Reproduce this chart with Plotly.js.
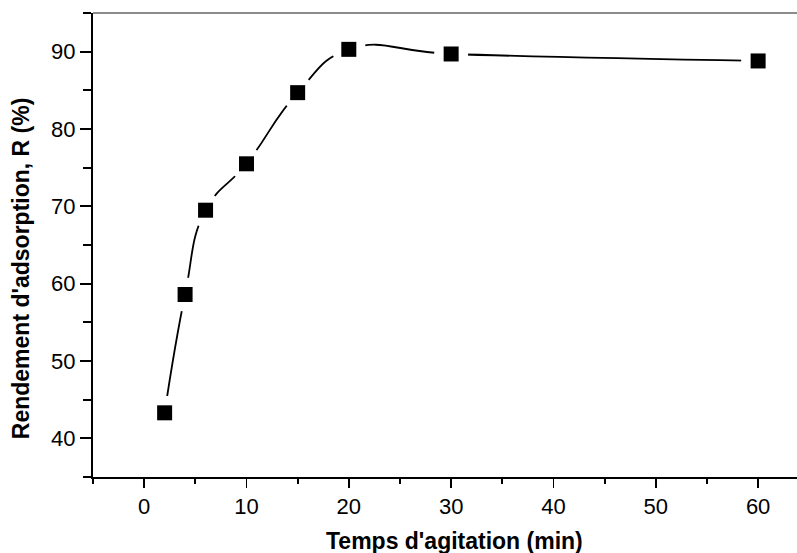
<!DOCTYPE html>
<html>
<head>
<meta charset="utf-8">
<script src="https://cdn.plot.ly/plotly-3.0.1.min.js"></script>
<style>html,body{margin:0;padding:0;background:#fff;}#chart{width:797px;height:553px;}</style>
</head>
<body>
<div id="chart"></div>
<script>
const tempsMin = [2, 4, 6, 10, 15, 20, 30, 60];
const rendement = [43.3, 58.6, 69.5, 75.5, 84.7, 90.3, 89.7, 88.8];
const xTickVals = [0, 10, 20, 30, 40, 50, 60];
const yTickVals = [40, 50, 60, 70, 80, 90];
const xTitle = "Temps d'agitation (min)";
const yTitle = "Rendement d'adsorption, R (%)";

const font = "Liberation Sans, Arial, sans-serif";

const traces = [
  {x: tempsMin, y: rendement, mode: 'lines', type: 'scatter',
   line: {color: '#000', width: 1.8, shape: 'spline', smoothing: 1.3},
   hoverinfo: 'skip', showlegend: false},
  {x: tempsMin, y: rendement, mode: 'markers', type: 'scatter',
   marker: {symbol: 'circle', size: 34, color: '#fff', line: {width: 0}},
   hoverinfo: 'skip', showlegend: false},
  {x: tempsMin, y: rendement, mode: 'markers', type: 'scatter',
   marker: {symbol: 'square', size: 15, color: '#000', line: {width: 0}},
   showlegend: false}
];

const layout = {
  width: 797, height: 553,
  margin: {l: 93, r: 0, t: 13, b: 76},
  paper_bgcolor: '#fff', plot_bgcolor: '#fff',
  showlegend: false,
  font: {family: font, color: '#000'},
  xaxis: {
    range: [-5, 63.8], tickvals: xTickVals, ticktext: xTickVals.map(String),
    ticks: 'outside', ticklen: 9, tickwidth: 1.8, tickcolor: '#000',
    minor: {dtick: 5, tick0: 0, ticks: 'outside', ticklen: 5, tickwidth: 1.8, tickcolor: '#000', showgrid: false},
    showline: true, linecolor: '#000', linewidth: 2, showgrid: false, zeroline: false,
    tickfont: {size: 22, family: font, color: '#000'}
  },
  yaxis: {
    range: [35, 95], tickvals: yTickVals, ticktext: yTickVals.map(String),
    ticks: 'outside', ticklen: 11, tickwidth: 1.8, tickcolor: '#000',
    minor: {dtick: 5, tick0: 0, ticks: 'outside', ticklen: 8, tickwidth: 1.8, tickcolor: '#000', showgrid: false},
    showline: true, linecolor: '#000', linewidth: 2, showgrid: false, zeroline: false,
    tickfont: {size: 22, family: font, color: '#000'}
  },
  annotations: [
    {text: '<b>' + xTitle + '</b>', xref: 'paper', yref: 'paper', x: 0.514, y: 0,
     yshift: -64, xanchor: 'center', yanchor: 'middle', showarrow: false,
     font: {size: 23, family: font, color: '#000'}},
    {text: '<b>' + yTitle + '</b>', xref: 'paper', yref: 'paper', x: 0, y: 0.45,
     xshift: -72, xanchor: 'center', yanchor: 'middle', textangle: -90, showarrow: false,
     font: {size: 23, family: font, color: '#000'}}
  ],
  shapes: [
    {type: 'line', xref: 'paper', yref: 'paper', x0: 0, x1: 1, y0: 1, y1: 1,
     line: {color: '#666', width: 1.5}}
  ]
};

Plotly.newPlot('chart', traces, layout, {staticPlot: true, displayModeBar: false});
</script>
</body>
</html>
